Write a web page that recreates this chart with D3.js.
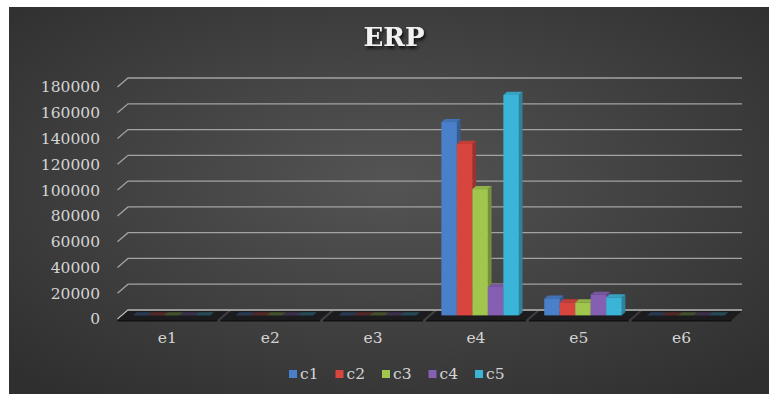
<!doctype html>
<html lang="en">
  <head>
    <meta charset="utf-8" />
    <title>ERP</title>
    <style>
      body { margin: 0; background: #fff; }
      svg { display: block; }
      .tick text { font-family: "DejaVu Serif", serif; }
    </style>
  </head>
  <body>
    <div id="chart"></div>
    <script src="https://d3js.org/d3.v7.min.js"></script>
    <script>
// data
var categories = ["e1", "e2", "e3", "e4", "e5", "e6"];
var seriesNames = ["c1", "c2", "c3", "c4", "c5"];
var c1 = [0, 0, 0, 150000, 13000, 0];
var c2 = [0, 0, 0, 133000, 10000, 0];
var c3 = [0, 0, 0, 98000, 10000, 0];
var c4 = [0, 0, 0, 22000, 16000, 0];
var c5 = [0, 0, 0, 171000, 14000, 0];
var yTicks = [0, 20000, 40000, 60000, 80000, 100000, 120000, 140000, 160000, 180000];
var colors = ["#4a7fca", "#d8443e", "#a1c64e", "#8560b2", "#3bb5d7"];

var seriesValues = [c1, c2, c3, c4, c5];

var W = 769, H = 394;
// pseudo 3d: depth 0 = back wall, depth 1 = front edge of floor
var DX = -10.5, DY = 9;
function px(x, d) { return x + DX * d; }
function py(y, d) { return y + DY * d; }

var svg = d3.select("#chart").append("svg")
  .attr("width", W)
  .attr("height", H);

var defs = svg.append("defs");
var bg = defs.append("radialGradient").attr("id", "bg")
  .attr("cx", "50%").attr("cy", "45%").attr("r", "70%");
bg.append("stop").attr("offset", "0%").attr("stop-color", "#545454");
bg.append("stop").attr("offset", "100%").attr("stop-color", "#2f2f2f");

var sh = defs.append("filter").attr("id", "shadow")
  .attr("x", "-20%").attr("y", "-20%").attr("width", "140%").attr("height", "160%");
sh.append("feDropShadow").attr("dx", 1.5).attr("dy", 2.5).attr("stdDeviation", 1.5)
  .attr("flood-color", "#000").attr("flood-opacity", 0.8);

svg.append("rect")
  .attr("x", 9).attr("y", 7)
  .attr("width", W - 9).attr("height", H - 7)
  .attr("fill", "url(#bg)");

// title
svg.append("text")
  .attr("x", 394).attr("y", 46)
  .attr("text-anchor", "middle")
  .attr("font-family", "DejaVu Serif, serif")
  .attr("font-weight", "bold")
  .attr("font-size", 26)
  .attr("fill", "#f2f2f2")
  .attr("filter", "url(#shadow)")
  .text("ERP");

var x = d3.scaleBand().domain(categories).range([128, 742]).paddingInner(0.03);
var xs = d3.scaleBand().domain(seriesNames).range([0, x.bandwidth()])
  .paddingOuter(0.72).paddingInner(0);
var y = d3.scaleLinear().domain([0, 180000]).range([310, 78]);

// gridlines on the back wall with slanted side edge
svg.append("g").selectAll("path")
  .data(yTicks.filter(function (t) { return t > 0; }))
  .enter().append("path")
    .attr("d", function (t) {
      var yy = y(t);
      return "M" + px(128, 1) + "," + py(yy, 1) + "L128," + yy + "L742," + yy;
    })
    .attr("fill", "none")
    .attr("stroke", "#a3a3a3")
    .attr("stroke-width", 1.3);

// zero line
svg.append("path")
  .attr("d", "M" + px(128, 1) + "," + py(y(0), 1) + "L128," + y(0) + "L742," + y(0))
  .attr("fill", "none")
  .attr("stroke", "#b5b5b5")
  .attr("stroke-width", 1.3);

// floor slabs
var floor = svg.append("g");
floor.selectAll("path.top")
  .data(categories)
  .enter().append("path")
    .attr("class", "top")
    .attr("d", function (c) {
      var a = x(c), b = x(c) + x.bandwidth(), yy = y(0) + 1;
      return "M" + a + "," + yy + "L" + b + "," + yy +
        "L" + px(b, 1) + "," + py(yy, 1) + "L" + px(a, 1) + "," + py(yy, 1) + "Z";
    })
    .attr("fill", "#1c1c1e");
floor.selectAll("path.front")
  .data(categories)
  .enter().append("path")
    .attr("class", "front")
    .attr("d", function (c) {
      var a = px(x(c), 1), b = px(x(c) + x.bandwidth(), 1), yy = py(y(0) + 1, 1);
      return "M" + a + "," + yy + "L" + b + "," + yy + "L" + b + "," + (yy + 1.5) + "L" + a + "," + (yy + 1.5) + "Z";
    })
    .attr("fill", "#111");

// bars
var D0 = 0.25, D1 = 0.6;
var bars = [];
categories.forEach(function (c, i) {
  seriesNames.forEach(function (s, j) {
    bars.push({ cat: c, s: s, j: j, v: seriesValues[j][i] });
  });
});

var barG = svg.append("g");
var bar = barG.selectAll("g")
  .data(bars)
  .enter().append("g");

function face(pts) {
  return "M" + pts.map(function (p) { return p[0] + "," + p[1]; }).join("L") + "Z";
}

// side face
bar.filter(function (d) { return d.v > 0; }).append("path")
  .attr("d", function (d) {
    var xr = x(d.cat) + xs(d.s) + xs.bandwidth(), yt = y(d.v), yb = y(0);
    return face([[px(xr, D1), py(yt, D1)], [px(xr, D0), py(yt, D0)],
      [px(xr, D0), py(yb, D0)], [px(xr, D1), py(yb, D1)]]);
  })
  .attr("fill", function (d) { return d3.color(colors[d.j]).darker(0.9); });

// top face
bar.append("path")
  .attr("d", function (d) {
    var xl = x(d.cat) + xs(d.s), xr = xl + xs.bandwidth(), yt = y(d.v);
    return face([[px(xl, D1), py(yt, D1)], [px(xl, D0), py(yt, D0)],
      [px(xr, D0), py(yt, D0)], [px(xr, D1), py(yt, D1)]]);
  })
  .attr("fill", function (d) { return d.v > 0 ? d3.color(colors[d.j]).darker(0.3) : colors[d.j]; })
  .attr("opacity", function (d) { return d.v > 0 ? 1 : 0.3; });

// front face
bar.filter(function (d) { return d.v > 0; }).append("rect")
  .attr("x", function (d) { return px(x(d.cat) + xs(d.s), D1); })
  .attr("y", function (d) { return py(y(d.v), D1); })
  .attr("width", xs.bandwidth())
  .attr("height", function (d) { return y(0) - y(d.v); })
  .attr("fill", function (d) { return colors[d.j]; });

// y axis labels, aligned with the front end of each gridline
var yAxis = svg.append("g")
  .attr("transform", "translate(103," + DY + ")")
  .call(d3.axisLeft(y).tickValues(yTicks).tickFormat(d3.format("d")).tickSize(0).tickPadding(3));
yAxis.select(".domain").remove();
yAxis.selectAll("text")
  .attr("fill", "#d4d4d4")
  .attr("font-size", 15.5);

// category labels along the front edge
var xAxis = svg.append("g")
  .attr("transform", "translate(" + DX + ",324)")
  .call(d3.axisBottom(x).tickSize(0).tickPadding(8));
xAxis.select(".domain").remove();
xAxis.selectAll("text")
  .attr("fill", "#d4d4d4")
  .attr("font-size", 15.5);

// legend
var legend = svg.append("g").selectAll("g")
  .data(seriesNames)
  .enter().append("g")
    .attr("transform", function (d, i) { return "translate(" + (289 + i * 46.5) + ",370)"; });
legend.append("rect")
  .attr("width", 8).attr("height", 8)
  .attr("fill", function (d, i) { return colors[i]; });
legend.append("text")
  .attr("x", 11).attr("y", 9)
  .attr("font-family", "DejaVu Serif, serif")
  .attr("font-size", 15.5)
  .attr("fill", "#d4d4d4")
  .text(function (d) { return d; });
    </script>
  </body>
</html>
